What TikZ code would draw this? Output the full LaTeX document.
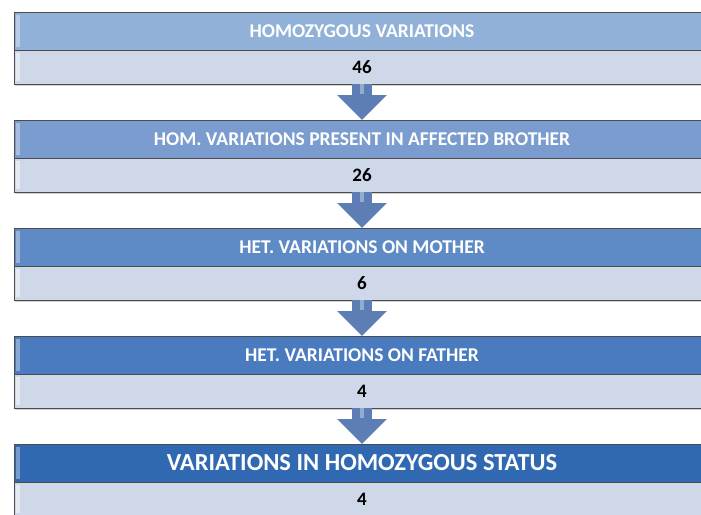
\documentclass[tikz,border=0pt]{standalone}
\usepackage{fontspec}
\setmainfont{Carlito}
\usetikzlibrary{positioning,arrows.meta,shadows}

\definecolor{headA}{RGB}{146,177,216}
\definecolor{headB}{RGB}{122,156,206}
\definecolor{headC}{RGB}{94,138,197}
\definecolor{headD}{RGB}{74,123,190}
\definecolor{headE}{RGB}{48,104,178}
\definecolor{valrow}{RGB}{206,216,232}
\definecolor{arrowblue}{RGB}{92,126,181}

\begin{document}
\begin{tikzpicture}[
    x=1pt, y=-1pt,
    head/.style={
        rectangle,
        draw=gray!60!black,
        minimum width=696pt,
        minimum height=38pt,
        inner sep=0pt,
        outer sep=0pt,
        text=white,
        font=\fontsize{19.5}{23}\selectfont\bfseries,
        path picture={
            \fill[white, opacity=0.35] ([xshift=2pt,yshift=-3pt]path picture bounding box.north west)
                rectangle ([xshift=6pt,yshift=3pt]path picture bounding box.south west);
        }
    },
    val/.style={
        rectangle,
        draw=gray!60!black,
        fill=valrow,
        minimum width=696pt,
        minimum height=34pt,
        inner sep=0pt,
        outer sep=0pt,
        font=\fontsize{19}{22}\selectfont\bfseries,
        drop shadow={shadow xshift=1pt, shadow yshift=-2pt, opacity=0.35},
        path picture={
            \fill[white, opacity=0.5] ([xshift=2pt,yshift=-3pt]path picture bounding box.north west)
                rectangle ([xshift=6pt,yshift=3pt]path picture bounding box.south west);
        }
    },
    flow/.style={
        line width=20pt,
        draw=arrowblue,
        -{Triangle[width=48pt,length=25pt]}
    },
    shine/.style={
        line width=4pt,
        draw=white,
        opacity=0.35,
        shorten >=26pt
    }
]

\useasboundingbox (0,0) rectangle (701,514);
\clip (0,0) rectangle (701,514);

% Stage 1
\node[head, fill=headA] (h1) at (362,31) {HOMOZYGOUS VARIATIONS};
\node[val, below=0pt of h1] (v1) {46};

% Stage 2
\node[head, fill=headB, below=36pt of v1] (h2) {HOM. VARIATIONS PRESENT IN AFFECTED BROTHER};
\node[val, below=0pt of h2] (v2) {26};

% Stage 3
\node[head, fill=headC, below=36pt of v2] (h3) {HET. VARIATIONS ON MOTHER};
\node[val, below=0pt of h3] (v3) {6};

% Stage 4
\node[head, fill=headD, below=36pt of v3] (h4) {HET. VARIATIONS ON FATHER};
\node[val, below=0pt of h4] (v4) {4};

% Result
\node[head, fill=headE, font=\fontsize{24.5}{28}\selectfont\bfseries, below=36pt of v4] (h5) {VARIATIONS IN HOMOZYGOUS STATUS};
\node[val, below=0pt of h5] (v5) {4};

% Filter arrows
\draw[flow] (v1.south) -- (h2.north);
\draw[flow] (v2.south) -- (h3.north);
\draw[flow] (v3.south) -- (h4.north);
\draw[flow] (v4.south) -- (h5.north);
\draw[shine] (v1.south) -- (h2.north);
\draw[shine] (v2.south) -- (h3.north);
\draw[shine] (v3.south) -- (h4.north);
\draw[shine] (v4.south) -- (h5.north);

\end{tikzpicture}
\end{document}
